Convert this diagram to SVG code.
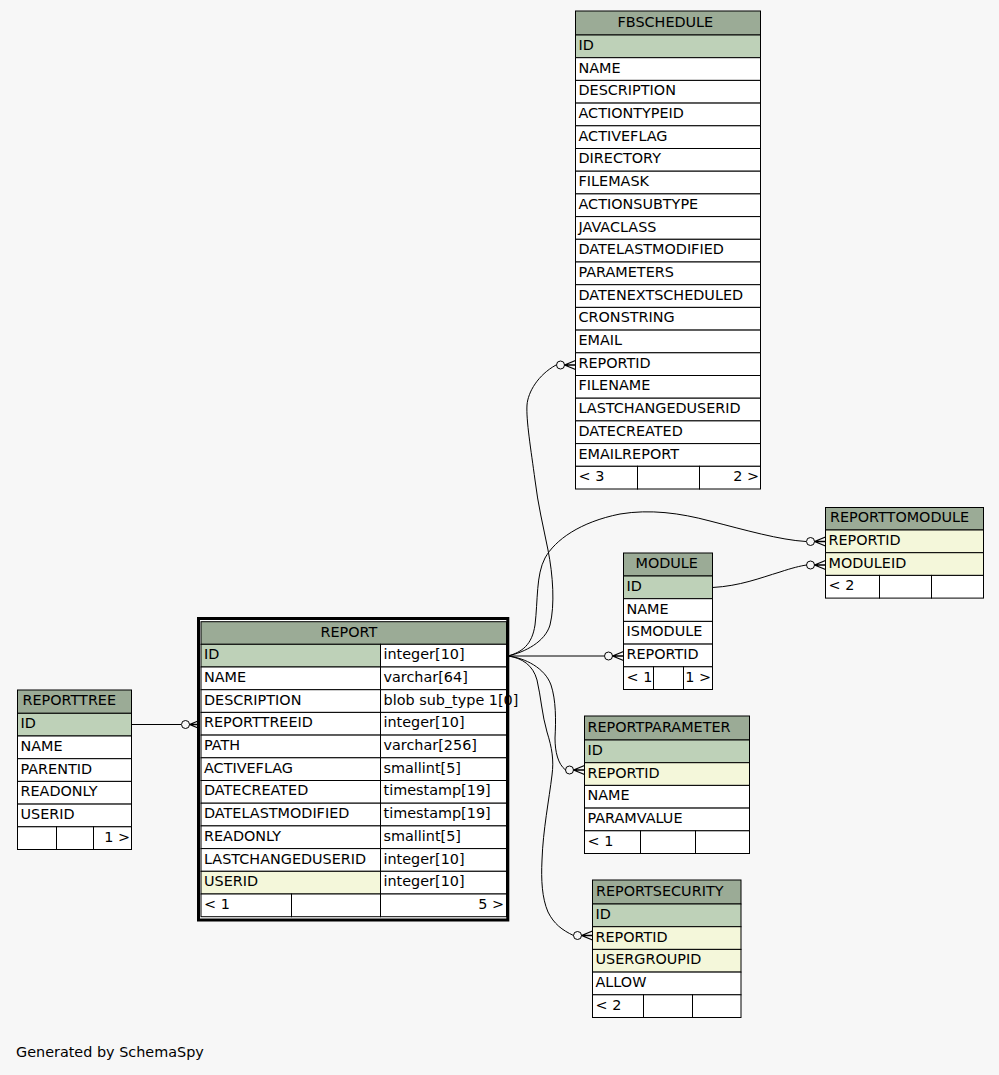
<svg xmlns="http://www.w3.org/2000/svg" xmlns:xlink="http://www.w3.org/1999/xlink" width="999" height="1075" viewBox="0 0 999 1075">
<style>
text{font-family:"DejaVu Sans","Liberation Sans",sans-serif;font-size:14.4px;fill:#000}
.e{text-anchor:end}
.hd,.pk,.fk,.rw{stroke:#000;stroke-width:1}
.hd{fill:#9bab96}
.pk{fill:#bed1b8}
.fk{fill:#f4f7da}
.rw{fill:#fff}
.ob{fill:#fff;stroke:#000;stroke-width:3}
.bg{fill:#f7f7f7;stroke:none}
.cn path{fill:none;stroke:#000;stroke-width:1}
</style>
<defs>
<g id="cf" fill="none" stroke="#000"><circle cx="-15" cy="0" r="4"/><path d="M-11,0 L0,-4.5 M-11,0 L0,0 M-11,0 L0,4.5" stroke-width="1.3"/></g>
</defs>
<rect class="bg" x="0" y="0" width="999" height="1075"/>

<g id="connectors" class="cn">
<path d="M131.5,724.5 L181,724.5"/>
<use xlink:href="#cf" x="200.5" y="724.5"/>
<path d="M508,656 L604,656"/>
<use xlink:href="#cf" x="623.5" y="656"/>
<path d="M508,656 C525,652 545,642 550,625 C555,605 553,575 548,550 C543,525 538,505 535,480 C531,450 526,420 527,405 C528,392 538,375 556,365"/>
<use xlink:href="#cf" x="575.5" y="365"/>
<path d="M508,656 C522,652 532,645 535,625 C538,600 536,575 545,558 C555,540 580,522 620,514 C650,509 680,513 710,521 C745,530 780,540 806,541.5"/>
<use xlink:href="#cf" x="825.5" y="541.5"/>
<path d="M712.5,587.5 C740,586 760,578 780,572 C792,568 800,566 806.5,565"/>
<use xlink:href="#cf" x="825.5" y="565"/>
<path d="M508,656 C525,658 545,668 551,685 C556,700 556,720 555,738 C555,752 558,764 565.5,770"/>
<use xlink:href="#cf" x="584.5" y="770"/>
<path d="M508,656 C522,658 533,665 537,680 C541,697 542,715 547,732 C552,748 554,760 552,775 C549,800 543,830 542,860 C541,880 542,898 548,912 C554,924 562,930 573.5,935.5"/>
<use xlink:href="#cf" x="592.5" y="935.5"/>
</g>

<g id="FBSCHEDULE">
<rect class="hd" x="575.5" y="11" width="185" height="24"/>
<text x="617.5" y="26.5">FBSCHEDULE</text>
<rect class="pk" x="575.5" y="35" width="185" height="22.7"/><text x="578.5" y="49.9">ID</text>
<rect class="rw" x="575.5" y="57.7" width="185" height="22.7"/><text x="578.5" y="72.6">NAME</text>
<rect class="rw" x="575.5" y="80.4" width="185" height="22.7"/><text x="578.5" y="95.3">DESCRIPTION</text>
<rect class="rw" x="575.5" y="103.1" width="185" height="22.7"/><text x="578.5" y="118">ACTIONTYPEID</text>
<rect class="rw" x="575.5" y="125.8" width="185" height="22.7"/><text x="578.5" y="140.7">ACTIVEFLAG</text>
<rect class="rw" x="575.5" y="148.5" width="185" height="22.7"/><text x="578.5" y="163.4">DIRECTORY</text>
<rect class="rw" x="575.5" y="171.2" width="185" height="22.7"/><text x="578.5" y="186.1">FILEMASK</text>
<rect class="rw" x="575.5" y="193.9" width="185" height="22.7"/><text x="578.5" y="208.8">ACTIONSUBTYPE</text>
<rect class="rw" x="575.5" y="216.6" width="185" height="22.7"/><text x="578.5" y="231.5">JAVACLASS</text>
<rect class="rw" x="575.5" y="239.3" width="185" height="22.7"/><text x="578.5" y="254.2">DATELASTMODIFIED</text>
<rect class="rw" x="575.5" y="262" width="185" height="22.7"/><text x="578.5" y="276.9">PARAMETERS</text>
<rect class="rw" x="575.5" y="284.7" width="185" height="22.7"/><text x="578.5" y="299.6">DATENEXTSCHEDULED</text>
<rect class="rw" x="575.5" y="307.4" width="185" height="22.7"/><text x="578.5" y="322.3">CRONSTRING</text>
<rect class="rw" x="575.5" y="330.1" width="185" height="22.7"/><text x="578.5" y="345">EMAIL</text>
<rect class="rw" x="575.5" y="352.8" width="185" height="22.7"/><text x="578.5" y="367.7">REPORTID</text>
<rect class="rw" x="575.5" y="375.5" width="185" height="22.7"/><text x="578.5" y="390.4">FILENAME</text>
<rect class="rw" x="575.5" y="398.2" width="185" height="22.7"/><text x="578.5" y="413.1">LASTCHANGEDUSERID</text>
<rect class="rw" x="575.5" y="420.9" width="185" height="22.7"/><text x="578.5" y="435.8">DATECREATED</text>
<rect class="rw" x="575.5" y="443.6" width="185" height="22.7"/><text x="578.5" y="458.5">EMAILREPORT</text>
<rect class="rw" x="575.5" y="466.3" width="62" height="22.7"/>
<rect class="rw" x="637.5" y="466.3" width="62" height="22.7"/>
<rect class="rw" x="699.5" y="466.3" width="61" height="22.7"/>
<text x="578.5" y="481.2">&lt; 3</text><text class="e" x="759" y="481.2">2 &gt;</text>
</g>

<g id="REPORTTOMODULE">
<rect class="hd" x="825.5" y="507.5" width="158" height="22.5"/>
<text x="830" y="522.3">REPORTTOMODULE</text>
<rect class="fk" x="825.5" y="530" width="158" height="22.7"/><text x="828.5" y="544.9">REPORTID</text>
<rect class="fk" x="825.5" y="552.7" width="158" height="22.7"/><text x="828.5" y="567.6">MODULEID</text>
<rect class="rw" x="825.5" y="575.4" width="54" height="22.7"/>
<rect class="rw" x="879.5" y="575.4" width="52" height="22.7"/>
<rect class="rw" x="931.5" y="575.4" width="52" height="22.7"/>
<text x="828.5" y="590.3">&lt; 2</text>
</g>

<g id="MODULE">
<rect class="hd" x="623.5" y="553" width="89" height="23"/>
<text x="635.5" y="568">MODULE</text>
<rect class="pk" x="623.5" y="576" width="89" height="22.7"/><text x="626.5" y="590.9">ID</text>
<rect class="rw" x="623.5" y="598.7" width="89" height="22.7"/><text x="626.5" y="613.6">NAME</text>
<rect class="rw" x="623.5" y="621.4" width="89" height="22.7"/><text x="626.5" y="636.3">ISMODULE</text>
<rect class="rw" x="623.5" y="644.1" width="89" height="22.7"/><text x="626.5" y="659">REPORTID</text>
<rect class="rw" x="623.5" y="666.8" width="30" height="22.7"/>
<rect class="rw" x="653.5" y="666.8" width="30" height="22.7"/>
<rect class="rw" x="683.5" y="666.8" width="29" height="22.7"/>
<text x="626.5" y="681.7">&lt; 1</text><text class="e" x="711" y="681.7">1 &gt;</text>
</g>

<g id="REPORT">
<rect class="ob" x="198.5" y="618.5" width="309.3" height="301.5"/>
<rect class="hd" x="201" y="621.7" width="305.5" height="22.6"/>
<text x="320.5" y="636.5">REPORT</text>
<rect class="pk" x="201" y="644.3" width="179.5" height="22.7"/><rect class="rw" x="380.5" y="644.3" width="126" height="22.7"/>
<text x="204" y="659.2">ID</text><text x="383.5" y="659.2">integer[10]</text>
<rect class="rw" x="201" y="667" width="179.5" height="22.7"/><rect class="rw" x="380.5" y="667" width="126" height="22.7"/>
<text x="204" y="681.9">NAME</text><text x="383.5" y="681.9">varchar[64]</text>
<rect class="rw" x="201" y="689.7" width="179.5" height="22.7"/><rect class="rw" x="380.5" y="689.7" width="126" height="22.7"/>
<text x="204" y="704.6">DESCRIPTION</text><text x="383.5" y="704.6">blob sub_type 1[0]</text>
<rect class="rw" x="201" y="712.4" width="179.5" height="22.7"/><rect class="rw" x="380.5" y="712.4" width="126" height="22.7"/>
<text x="204" y="727.3">REPORTTREEID</text><text x="383.5" y="727.3">integer[10]</text>
<rect class="rw" x="201" y="735.1" width="179.5" height="22.7"/><rect class="rw" x="380.5" y="735.1" width="126" height="22.7"/>
<text x="204" y="750">PATH</text><text x="383.5" y="750">varchar[256]</text>
<rect class="rw" x="201" y="757.8" width="179.5" height="22.7"/><rect class="rw" x="380.5" y="757.8" width="126" height="22.7"/>
<text x="204" y="772.7">ACTIVEFLAG</text><text x="383.5" y="772.7">smallint[5]</text>
<rect class="rw" x="201" y="780.5" width="179.5" height="22.7"/><rect class="rw" x="380.5" y="780.5" width="126" height="22.7"/>
<text x="204" y="795.4">DATECREATED</text><text x="383.5" y="795.4">timestamp[19]</text>
<rect class="rw" x="201" y="803.2" width="179.5" height="22.7"/><rect class="rw" x="380.5" y="803.2" width="126" height="22.7"/>
<text x="204" y="818.1">DATELASTMODIFIED</text><text x="383.5" y="818.1">timestamp[19]</text>
<rect class="rw" x="201" y="825.9" width="179.5" height="22.7"/><rect class="rw" x="380.5" y="825.9" width="126" height="22.7"/>
<text x="204" y="840.8">READONLY</text><text x="383.5" y="840.8">smallint[5]</text>
<rect class="rw" x="201" y="848.6" width="179.5" height="22.7"/><rect class="rw" x="380.5" y="848.6" width="126" height="22.7"/>
<text x="204" y="863.5">LASTCHANGEDUSERID</text><text x="383.5" y="863.5">integer[10]</text>
<rect class="fk" x="201" y="871.3" width="179.5" height="22.7"/><rect class="rw" x="380.5" y="871.3" width="126" height="22.7"/>
<text x="204" y="886.2">USERID</text><text x="383.5" y="886.2">integer[10]</text>
<rect class="rw" x="201" y="894" width="90.5" height="22.7"/>
<rect class="rw" x="291.5" y="894" width="89" height="22.7"/>
<rect class="rw" x="380.5" y="894" width="126" height="22.7"/>
<text x="204" y="908.9">&lt; 1</text><text class="e" x="504" y="908.9">5 &gt;</text>
</g>

<g id="REPORTTREE">
<rect class="hd" x="17.5" y="690" width="114" height="23.3"/>
<text x="22.5" y="705.2">REPORTTREE</text>
<rect class="pk" x="17.5" y="713.3" width="114" height="22.7"/><text x="20.5" y="728.2">ID</text>
<rect class="rw" x="17.5" y="736" width="114" height="22.7"/><text x="20.5" y="750.9">NAME</text>
<rect class="rw" x="17.5" y="758.7" width="114" height="22.7"/><text x="20.5" y="773.6">PARENTID</text>
<rect class="rw" x="17.5" y="781.4" width="114" height="22.7"/><text x="20.5" y="796.3">READONLY</text>
<rect class="rw" x="17.5" y="804.1" width="114" height="22.7"/><text x="20.5" y="819">USERID</text>
<rect class="rw" x="17.5" y="826.8" width="39" height="22.7"/>
<rect class="rw" x="56.5" y="826.8" width="37" height="22.7"/>
<rect class="rw" x="93.5" y="826.8" width="38" height="22.7"/>
<text class="e" x="130" y="841.7">1 &gt;</text>
</g>

<g id="REPORTPARAMETER">
<rect class="hd" x="584.5" y="716" width="165" height="24"/>
<text x="587.5" y="731.5">REPORTPARAMETER</text>
<rect class="pk" x="584.5" y="740" width="165" height="22.7"/><text x="587.5" y="754.9">ID</text>
<rect class="fk" x="584.5" y="762.7" width="165" height="22.7"/><text x="587.5" y="777.6">REPORTID</text>
<rect class="rw" x="584.5" y="785.4" width="165" height="22.7"/><text x="587.5" y="800.3">NAME</text>
<rect class="rw" x="584.5" y="808.1" width="165" height="22.7"/><text x="587.5" y="823">PARAMVALUE</text>
<rect class="rw" x="584.5" y="830.8" width="56" height="22.7"/>
<rect class="rw" x="640.5" y="830.8" width="55" height="22.7"/>
<rect class="rw" x="695.5" y="830.8" width="54" height="22.7"/>
<text x="587.5" y="845.7">&lt; 1</text>
</g>

<g id="REPORTSECURITY">
<rect class="hd" x="592.5" y="880" width="148.5" height="24"/>
<text x="596" y="895.5">REPORTSECURITY</text>
<rect class="pk" x="592.5" y="904" width="148.5" height="22.7"/><text x="595.5" y="918.9">ID</text>
<rect class="fk" x="592.5" y="926.7" width="148.5" height="22.7"/><text x="595.5" y="941.6">REPORTID</text>
<rect class="fk" x="592.5" y="949.4" width="148.5" height="22.7"/><text x="595.5" y="964.3">USERGROUPID</text>
<rect class="rw" x="592.5" y="972.1" width="148.5" height="22.7"/><text x="595.5" y="987">ALLOW</text>
<rect class="rw" x="592.5" y="994.8" width="51" height="22.7"/>
<rect class="rw" x="643.5" y="994.8" width="49" height="22.7"/>
<rect class="rw" x="692.5" y="994.8" width="48.5" height="22.7"/>
<text x="595.5" y="1009.7">&lt; 2</text>
</g>

<text x="16" y="1057">Generated by SchemaSpy</text>
</svg>
